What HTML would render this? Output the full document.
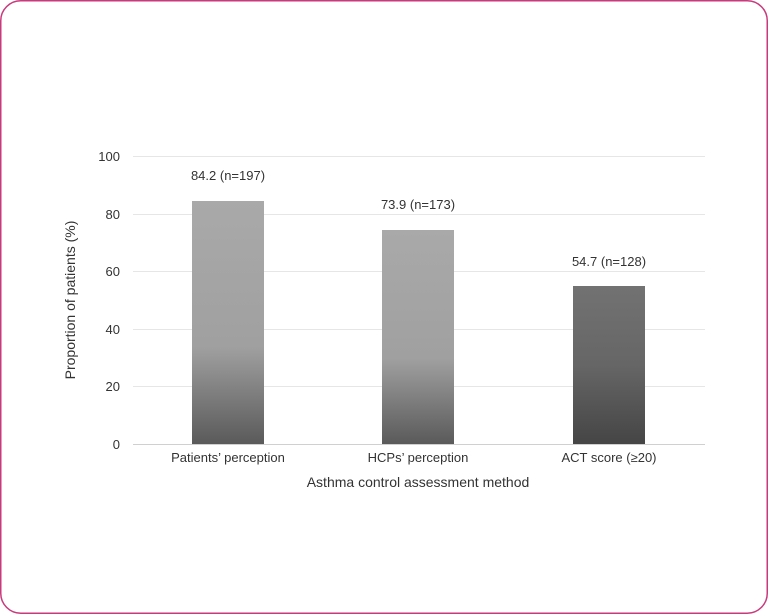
<!DOCTYPE html>
<html><head><style>
body{margin:0;background:#fff;}
svg{display:block;font-family:"Liberation Sans",sans-serif;}
</style></head><body>
<svg width="768" height="614" viewBox="0 0 768 614">
<defs>
<linearGradient id="g1" x1="0" y1="0" x2="0" y2="1">
<stop offset="0" stop-color="#a9a9a9"/><stop offset="0.6" stop-color="#a0a0a0"/><stop offset="1" stop-color="#5a5a5a"/>
</linearGradient>
<linearGradient id="g3" x1="0" y1="0" x2="0" y2="1">
<stop offset="0" stop-color="#727272"/><stop offset="0.5" stop-color="#666"/><stop offset="1" stop-color="#454545"/>
</linearGradient>
</defs>
<rect x="0.75" y="0.75" width="766.5" height="612.5" rx="20" fill="#fff" stroke="#c83a7c" stroke-width="1.5"/>
<g stroke="#e6e6e6" stroke-width="1">
<line x1="133" x2="705" y1="156.5" y2="156.5"/>
<line x1="133" x2="705" y1="214.5" y2="214.5"/>
<line x1="133" x2="705" y1="271.5" y2="271.5"/>
<line x1="133" x2="705" y1="329.5" y2="329.5"/>
<line x1="133" x2="705" y1="386.5" y2="386.5"/>
</g>
<line x1="133" x2="705" y1="444.5" y2="444.5" stroke="#d0d0d0"/>
<rect x="192" y="201" width="72" height="243" fill="url(#g1)"/>
<rect x="382" y="230" width="72" height="214" fill="url(#g1)"/>
<rect x="573" y="286" width="72" height="158" fill="url(#g3)"/>
<g font-size="13" fill="#333" text-anchor="end">
<text x="120" y="161">100</text><text x="120" y="219">80</text><text x="120" y="276">60</text>
<text x="120" y="334">40</text><text x="120" y="391">20</text><text x="120" y="449">0</text>
</g>
<g font-size="13" fill="#333" text-anchor="middle">
<text x="228" y="180">84.2 (n=197)</text>
<text x="418" y="209">73.9 (n=173)</text>
<text x="609" y="266">54.7 (n=128)</text>
<text x="228" y="462">Patients’ perception</text>
<text x="418" y="462">HCPs’ perception</text>
<text x="609" y="462">ACT score (≥20)</text>
<text x="418" y="487" font-size="14">Asthma control assessment method</text>
<text transform="translate(75,300) rotate(-90)" font-size="14">Proportion of patients (%)</text>
</g>
</svg>
</body></html>
